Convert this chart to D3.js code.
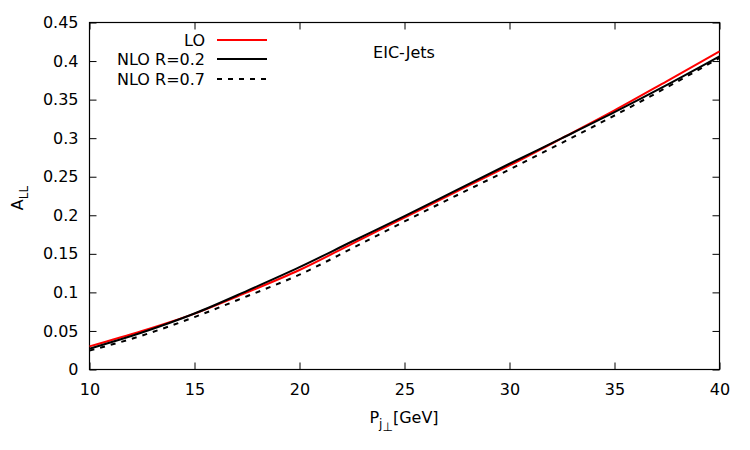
<!DOCTYPE html>
<html>
<head>
<meta charset="utf-8">
<script src="https://cdn.jsdelivr.net/npm/d3@7"></script>
<style>
  body { margin: 0; background: #fff; }
  svg { display: block; }
  text { font-family: "DejaVu Sans", sans-serif; }
</style>
</head>
<body>
<svg id="chart" width="750" height="450"></svg>
<script>
// ---- data ----
const pt = [10, 12.5, 15, 17.5, 20, 22.5, 25, 27.5, 30, 32.5, 35, 37.5, 40];
const lo = [0.030, 0.050, 0.0725, 0.100, 0.129, 0.163, 0.197, 0.231, 0.2646, 0.300, 0.336, 0.374, 0.4124];
const nloR02 = [0.027, 0.048, 0.0726, 0.102, 0.1327, 0.166, 0.199, 0.233, 0.2668, 0.300, 0.3337, 0.369, 0.406];
const nloR07 = [0.0245, 0.044, 0.068, 0.095, 0.123, 0.157, 0.192, 0.226, 0.2594, 0.294, 0.3294, 0.366, 0.404];
const xTicks = [10, 15, 20, 25, 30, 35, 40];
const yTicks = [0, 0.05, 0.1, 0.15, 0.2, 0.25, 0.3, 0.35, 0.4, 0.45];
const seriesNames = ["LO", "NLO R=0.2", "NLO R=0.7"];

const svg = d3.select("#chart");
const mLeft = 89.5, mRight = 719.5, mTop = 22.5, mBottom = 369.5;
const x = d3.scaleLinear().domain([10, 40]).range([mLeft, mRight]);
const y = d3.scaleLinear().domain([0, 0.45]).range([mBottom, mTop]);
const fs = 16;

// axes (gnuplot style inward ticks, mirrored)
const tick = 7;
const gx = svg.append("g").attr("transform", `translate(0,${mBottom})`)
  .call(d3.axisBottom(x).tickValues(xTicks).tickFormat(d3.format("d")).tickSizeInner(-tick).tickSizeOuter(0).tickPadding(14));
const gxt = svg.append("g").attr("transform", `translate(0,${mTop})`)
  .call(d3.axisTop(x).tickValues(xTicks).tickFormat("").tickSizeInner(-tick).tickSizeOuter(0));
const gy = svg.append("g").attr("transform", `translate(${mLeft},0)`)
  .call(d3.axisLeft(y).tickValues(yTicks).tickFormat(d => String(+d.toFixed(2))).tickSizeInner(-tick).tickSizeOuter(0).tickPadding(11));
const gyr = svg.append("g").attr("transform", `translate(${mRight},0)`)
  .call(d3.axisRight(y).tickValues(yTicks).tickFormat("").tickSizeInner(-tick).tickSizeOuter(0));
[gx, gxt, gy, gyr].forEach(g => {
  g.selectAll(".domain").remove();
  g.selectAll("line").attr("stroke", "#000").attr("stroke-width", 1);
  g.selectAll("text").attr("font-size", fs).attr("fill", "#000").attr("font-family", "DejaVu Sans, sans-serif");
});

// frame
svg.append("rect").attr("x", mLeft).attr("y", mTop)
  .attr("width", mRight - mLeft).attr("height", mBottom - mTop)
  .attr("fill", "none").attr("stroke", "#000").attr("stroke-width", 1.2);

// lines
const line = d3.line().x((d, i) => x(pt[i])).y(d => y(d)).curve(d3.curveMonotoneX);
const styles = [
  { data: lo, color: "#ff0000", dash: null },
  { data: nloR02, color: "#000000", dash: null },
  { data: nloR07, color: "#000000", dash: "5,6" }
];
styles.forEach(s => {
  svg.append("path").datum(s.data).attr("d", line)
    .attr("fill", "none").attr("stroke", s.color).attr("stroke-width", 2)
    .attr("stroke-dasharray", s.dash);
});

// legend
const legY = [40, 59, 79];
styles.forEach((s, i) => {
  svg.append("text").attr("x", 205).attr("y", legY[i]).attr("dy", "0.35em")
    .attr("text-anchor", "end").attr("font-size", fs).text(seriesNames[i]);
  svg.append("line").attr("x1", 217).attr("x2", 267).attr("y1", legY[i]).attr("y2", legY[i])
    .attr("stroke", s.color).attr("stroke-width", 2).attr("stroke-dasharray", s.dash);
});

// label EIC-Jets
svg.append("text").attr("x", 404).attr("y", 52).attr("dy", "0.35em")
  .attr("text-anchor", "middle").attr("font-size", fs).text("EIC-Jets");

// x axis label
const xl = svg.append("text").attr("x", 404).attr("y", 423).attr("text-anchor", "middle").attr("font-size", fs);
xl.append("tspan").text("P");
xl.append("tspan").attr("dy", 5).attr("font-size", 12).text("j");
xl.append("tspan").attr("dy", 3).attr("font-size", 12).text("⊥");
xl.append("tspan").attr("dy", -8).text("[GeV]");

// y axis label
const yl = svg.append("text").attr("transform", "translate(23,198) rotate(-90)")
  .attr("text-anchor", "middle").attr("font-size", fs);
yl.append("tspan").text("A");
yl.append("tspan").attr("dy", 5).attr("font-size", 12).text("LL");
</script>
</body>
</html>
